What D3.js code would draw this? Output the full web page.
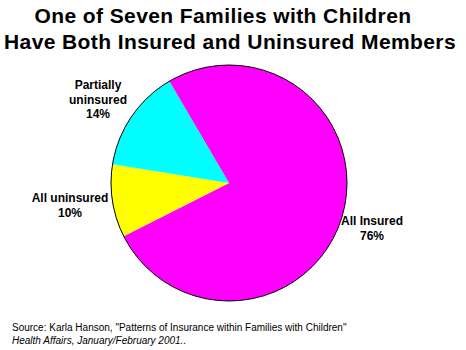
<!DOCTYPE html>
<html><head><meta charset="utf-8">
<script src="https://cdn.jsdelivr.net/npm/d3@7"></script>
<style>body{margin:0;background:#fff}</style>
</head><body>
<script>
const categories = ["All Insured", "All uninsured", "Partially uninsured"];
const values = [76, 10, 14];
const colors = ["#FF00FF", "#FFFF00", "#00FFFF"];
const titleLines = ["One of Seven Families with Children", "Have Both Insured and Uninsured Members"];
const sourceLines = ["Source: Karla Hanson, \"Patterns of Insurance within Families with Children\"", "Health Affairs, January/February 2001.."];

const W = 466, H = 350;
const svg = d3.select("body").append("svg").attr("width", W).attr("height", H);
const cx = 229, cy = 183, r = 118;
const startA = -30.4 * Math.PI / 180;
const pie = d3.pie().sort(null).value(d => d).startAngle(startA).endAngle(startA + 2 * Math.PI);
const arcs = pie(values);
const arc = d3.arc().innerRadius(0).outerRadius(r);
const g = svg.append("g").attr("transform", `translate(${cx},${cy})`);
g.selectAll("path.s").data(arcs).enter().append("path").attr("class", "s")
  .attr("d", arc).attr("fill", (d, i) => colors[i]);
g.append("circle").attr("r", r).attr("fill", "none").attr("stroke", "#000").attr("stroke-width", 1);

svg.selectAll("text.t").data(titleLines).enter().append("text").attr("class", "t")
  .attr("x", (d, i) => i === 0 ? 223 : 230).attr("y", (d, i) => 23 + i * 26)
  .attr("text-anchor", "middle").attr("font-family", "Arial, 'Liberation Sans', sans-serif")
  .attr("font-weight", "bold").attr("font-size", 21).attr("letter-spacing", 0.4).text(d => d);

const labelPos = [[372, 225], [70, 202], [98, 89]];
const lab = svg.selectAll("text.l").data(arcs).enter().append("text").attr("class", "l")
  .attr("text-anchor", "middle").attr("font-family", "Arial, 'Liberation Sans', sans-serif")
  .attr("font-weight", "bold").attr("font-size", 12)
  .attr("transform", (d, i) => `translate(${labelPos[i][0]},${labelPos[i][1]})`);
lab.each(function(d, i) {
  const t = d3.select(this);
  const name = categories[i];
  const lines = name === "Partially uninsured" ? ["Partially", "uninsured"] : [name];
  lines.push(values[i] + "%");
  lines.forEach((ln, j) => t.append("tspan").attr("x", 0).attr("y", j * 14.5).text(ln));
});

svg.selectAll("text.src").data(sourceLines).enter().append("text").attr("class", "src")
  .attr("x", 12).attr("y", (d, i) => 331 + i * 13)
  .attr("font-family", "Arial, 'Liberation Sans', sans-serif").attr("font-size", 10)
  .attr("font-style", (d, i) => i === 1 ? "italic" : "normal").text(d => d);
</script>
</body></html>
